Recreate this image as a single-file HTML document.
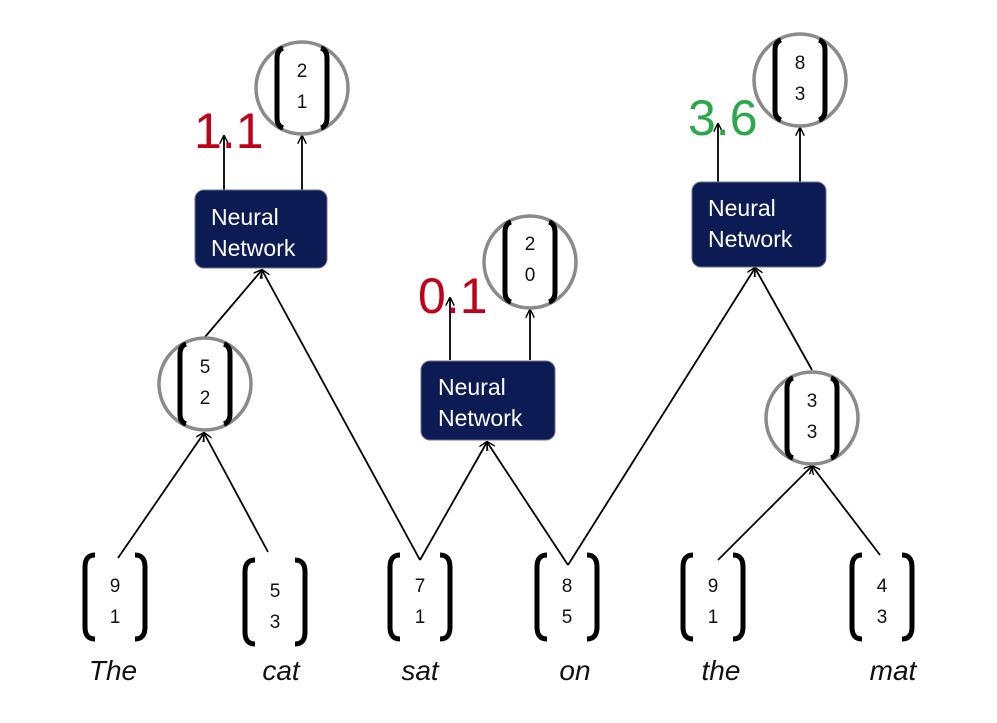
<!DOCTYPE html>
<html><head><style>
body{margin:0;background:#fff;}
svg text{font-family:"Liberation Sans",sans-serif;}
</style></head><body>
<svg width="997" height="718" viewBox="0 0 997 718" xmlns="http://www.w3.org/2000/svg">
<defs>
<marker id="a" viewBox="0 0 10 10" refX="9" refY="5" markerWidth="9" markerHeight="9" orient="auto" markerUnits="userSpaceOnUse">
<path d="M0,0 L10,5 L0,10" fill="none" stroke="#000" stroke-width="1.6"/>
</marker>
<g id="vec">
<path d="M-20,-42 Q-30,-42 -30,-30 L-30,30 Q-30,42 -20,42" fill="none" stroke="#000" stroke-width="5"/>
<path d="M20,-42 Q30,-42 30,-30 L30,30 Q30,42 20,42" fill="none" stroke="#000" stroke-width="5"/>
</g>
<g id="cvec">
<circle r="46" fill="none" stroke="#8a8a8a" stroke-width="3.5"/>
<path d="M-19,-40 Q-25,-38 -25,-30 L-25,30 Q-25,38 -19,40" fill="none" stroke="#000" stroke-width="5"/>
<path d="M19,-40 Q25,-38 25,-30 L25,30 Q25,38 19,40" fill="none" stroke="#000" stroke-width="5"/>
</g>
</defs>
<g stroke="#000" stroke-width="1.8" fill="none" marker-end="url(#a)">
<line x1="118" y1="558" x2="204" y2="433"/>
<line x1="268" y1="552" x2="204" y2="433"/>
<line x1="205" y1="337" x2="262" y2="270"/>
<line x1="420" y1="560" x2="262" y2="270"/>
<line x1="420" y1="560" x2="487" y2="442"/>
<line x1="568" y1="565" x2="487" y2="442"/>
<line x1="568" y1="565" x2="755" y2="268"/>
<line x1="718" y1="560" x2="812" y2="466"/>
<line x1="880" y1="555" x2="812" y2="466"/>
<line x1="812" y1="370" x2="755" y2="268"/>
<line x1="224" y1="190" x2="224" y2="136"/>
<line x1="302" y1="190" x2="302" y2="136"/>
<line x1="450" y1="360" x2="450" y2="298"/>
<line x1="530" y1="360" x2="530" y2="310"/>
<line x1="718" y1="182" x2="718" y2="124"/>
<line x1="800" y1="182" x2="800" y2="128"/>
</g>
<g fill="#0d1b55" stroke="#6a7090" stroke-width="1">
<rect x="195" y="190" width="132" height="78" rx="9"/>
<rect x="421" y="361" width="134" height="79" rx="9"/>
<rect x="692" y="182" width="134" height="85" rx="9"/>
</g>
<g fill="#fff" font-size="23">
<text x="211" y="225">Neural</text><text x="211" y="256">Network</text>
<text x="438" y="395">Neural</text><text x="438" y="426">Network</text>
<text x="708" y="216">Neural</text><text x="708" y="247">Network</text>
</g>
<g font-size="19" text-anchor="middle" fill="#111">
<use href="#cvec" x="302" y="88"/><text x="302" y="77">2</text><text x="302" y="108">1</text>
<use href="#cvec" x="205" y="384"/><text x="205" y="373">5</text><text x="205" y="404">2</text>
<use href="#cvec" x="530" y="262"/><text x="530" y="250">2</text><text x="530" y="281">0</text>
<use href="#cvec" x="800" y="80"/><text x="800" y="69">8</text><text x="800" y="100">3</text>
<use href="#cvec" x="812" y="418"/><text x="812" y="407">3</text><text x="812" y="438">3</text>
<use href="#vec" x="115" y="597"/><text x="115" y="592">9</text><text x="115" y="623">1</text>
<use href="#vec" x="275" y="602"/><text x="275" y="597">5</text><text x="275" y="628">3</text>
<use href="#vec" x="420" y="597"/><text x="420" y="592">7</text><text x="420" y="623">1</text>
<use href="#vec" x="567" y="597"/><text x="567" y="592">8</text><text x="567" y="623">5</text>
<use href="#vec" x="713" y="597"/><text x="713" y="592">9</text><text x="713" y="623">1</text>
<use href="#vec" x="882" y="597"/><text x="882" y="592">4</text><text x="882" y="623">3</text>
</g>
<g font-size="28" font-style="italic" text-anchor="middle" fill="#111">
<text x="113" y="680">The</text><text x="281" y="680">cat</text><text x="420" y="680">sat</text>
<text x="575" y="680">on</text><text x="721" y="680">the</text><text x="893" y="680">mat</text>
</g>
<g font-size="50">
<text x="194" y="148" fill="#c0001a">1.1</text>
<text x="418" y="313" fill="#c0001a">0.1</text>
<text x="688" y="135" fill="#2aa84a">3.6</text>
</g>
</svg>
</body></html>
